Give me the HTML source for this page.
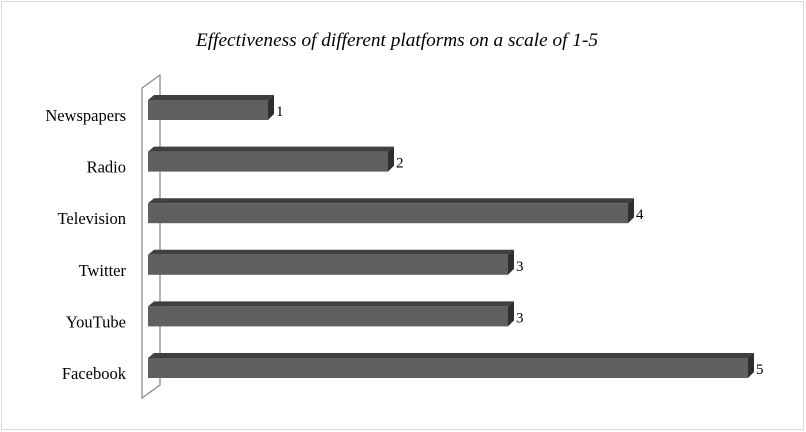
<!DOCTYPE html>
<html><head><meta charset="utf-8"><style>
body{margin:0;background:#fff}
svg{display:block;font-family:"Liberation Serif",serif}
</style></head><body>
<svg width="806" height="432">
<rect x="1.5" y="1.5" width="802" height="428" fill="#fff" stroke="#d9d9d9"/>
<text x="397" y="46" text-anchor="middle" font-size="19.3" font-style="italic" fill="#000">Effectiveness of different platforms on a scale of 1-5</text>
<polygon points="142,88 160,75 160,385 142,398" fill="none" stroke="#8c8c8c" stroke-width="1.3"/>
<g id="bars"></g>
</svg>
<script>
const categories=["Newspapers","Radio","Television","Twitter","YouTube","Facebook"];
const values=[1,2,4,3,3,5];
const labels=["1","2","4","3","3","5"];
const x0=148, unit=120, top0=100, step=51.6, h=20, d=6;
function xs(v){return x0+v*unit;}
function ys(i){return top0+i*step;}
const g=document.getElementById('bars');
const NS="http://www.w3.org/2000/svg";
function mk(t,a){const e=document.createElementNS(NS,t);for(const k in a)e.setAttribute(k,a[k]);g.appendChild(e);return e;}
categories.forEach((c,i)=>{
 const y=ys(i), xe=xs(values[i]);
 const top=mk('polygon',{points:`${x0},${y} ${x0+d},${y-5} ${xe+d},${y-5} ${xe},${y}`,fill:'#3f3f3f'});
 
 
 const side=mk('polygon',{points:`${xe},${y} ${xe+d},${y-5} ${xe+d},${y+h-6} ${xe},${y+h}`,fill:'#2e2e2e'});
 
 
 const f=mk('rect',{x:x0,y:y,width:xe-x0,height:h,fill:'#5f5f5f'});
 
 
 const t=mk('text',{x:126,y:y+h/2+11,'text-anchor':'end','font-size':16.5,fill:'#000'});
 t.textContent=c;
 
 
 const v=mk('text',{x:xe+d+2,y:y+h/2+6,'font-size':15,fill:'#000'});
 v.textContent=labels[i];
 
 
});
</script>
</body></html>
